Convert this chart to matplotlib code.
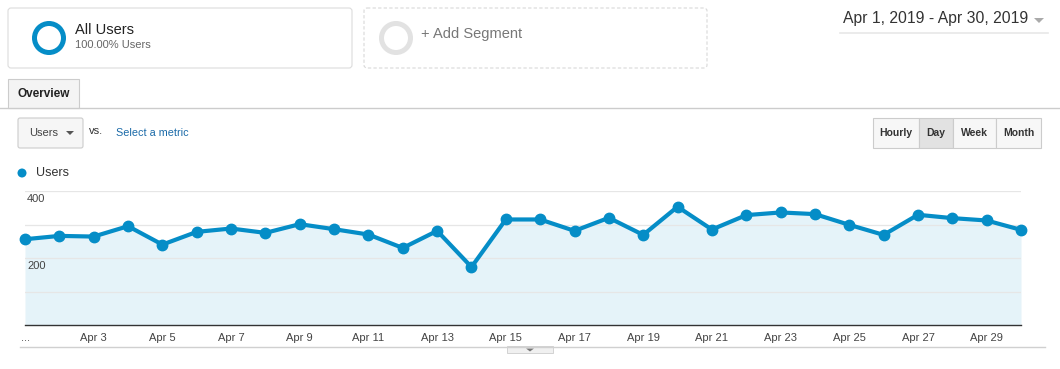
import numpy as np
import matplotlib
matplotlib.use("Agg")
import matplotlib.pyplot as plt
from matplotlib.patches import FancyBboxPatch, Rectangle, Circle, Polygon
import matplotlib.transforms as mtransforms

plt.rcParams["font.family"] = ["Liberation Sans", "DejaVu Sans"]

# daily users, April 2019
days = list(range(1, 31))
users = [256, 266, 264, 295, 240, 278, 288, 275, 301, 286,
         270, 230, 281, 173, 315, 315, 281, 320, 269, 353,
         285, 328, 336, 331, 299, 269, 329, 319, 312, 284]
tick_days = [1, 3, 5, 7, 9, 11, 13, 15, 17, 19, 21, 23, 25, 27, 29]
tick_labels = ["..."] + ["Apr %d" % d for d in tick_days[1:]]
y_grid = [100, 200, 300, 400]
y_labels = [200, 400]

BLUE = "#058dc7"
W, H = 1060, 369

fig = plt.figure(figsize=(W / 100, H / 100), dpi=100)

# overlay in pixel coords for the page furniture
ov = fig.add_axes([0, 0, 1, 1])
ov.set_xlim(0, W)
ov.set_ylim(H, 0)
ov.axis("off")

# segment boxes
ov.add_patch(FancyBboxPatch((8, 8), 344, 60, boxstyle="round,pad=0,rounding_size=3",
                            fc="white", ec="#dcdcdc", lw=0.8))
ov.add_patch(Circle((49, 38), 14.5, fc="none", ec=BLUE, lw=3.6))
ov.text(75, 30, "All Users", fontsize=10.5, color="#222222", va="center")
ov.text(75, 45, "100.00% Users", fontsize=8, color="#666666", va="center")

ov.add_patch(FancyBboxPatch((364, 8), 343, 60, boxstyle="round,pad=0,rounding_size=3",
                            fc="white", ec="#d8d8d8", lw=0.8, ls=(0, (3, 2))))
ov.add_patch(Circle((396, 38), 14.5, fc="none", ec="#e2e2e2", lw=3.6))
ov.text(421, 34, "+ Add Segment", fontsize=10.5, color="#777777", va="center")

# date range
ov.text(843, 19, "Apr 1, 2019 - Apr 30, 2019", fontsize=11.3, color="#333333", va="center")
ov.add_patch(Polygon([[1034, 18], [1044, 18], [1039, 23]], closed=True, fc="#aaaaaa", ec="none"))
ov.plot([840, 1048], [32.5, 32.5], color="#e8e8e8", lw=1.2)

# overview tab
ov.plot([0, W], [107.5, 107.5], color="#cccccc", lw=1)
ov.add_patch(Rectangle((8, 79), 71, 28.5, fc="#f4f4f4", ec="#cccccc", lw=0.8))
ov.add_patch(Rectangle((8.6, 106), 69.8, 2.5, fc="#f4f4f4", ec="none"))
ov.text(17, 94, "Overview", fontsize=8.5, fontweight="bold", color="#222222", va="center")

# metric picker
ov.add_patch(FancyBboxPatch((18, 118), 65, 30, boxstyle="round,pad=0,rounding_size=2",
                            fc="#f6f6f6", ec="#cccccc", lw=0.8))
ov.text(29, 133, "Users", fontsize=8, color="#444444", va="center")
ov.add_patch(Polygon([[66, 131], [74, 131], [70, 135]], closed=True, fc="#555555", ec="none"))
ov.text(89, 131, "vs.", fontsize=8, color="#333333", va="center")
ov.text(116, 133, "Select a metric", fontsize=7.8, color="#1a6aa8", va="center")

# time buttons
buttons = [("Hourly", 873, 919), ("Day", 919, 953), ("Week", 953, 996), ("Month", 996, 1041)]
for name, x0, x1 in buttons:
    fc = "#e2e2e2" if name == "Day" else "#f7f7f7"
    ov.add_patch(Rectangle((x0, 118), x1 - x0, 30, fc=fc, ec="#cccccc", lw=0.8))
    ov.text((x0 + x1) / 2, 133, name, fontsize=7.5, fontweight="bold", color="#333333",
            ha="center", va="center")

# legend
ov.add_patch(Circle((22, 173), 4.5, fc=BLUE, ec="none"))
ov.text(36, 173, "Users", fontsize=9, color="#333333", va="center")

# bottom line and drag tab
ov.plot([20, 1045], [346.5, 346.5], color="#d0d0d0", lw=1)
ov.add_patch(Rectangle((507, 346), 46, 7, fc="#f0f0f0", ec="#cccccc", lw=0.6))
ov.add_patch(Polygon([[526, 348.5], [534, 348.5], [530, 351.5]], closed=True, fc="#777777", ec="none"))

# chart
x0, x1, ytop, ybot = 25, 1021, 191, 325
ax = fig.add_axes([x0 / W, (H - ybot) / H, (x1 - x0) / W, (ybot - ytop) / H])
ax.set_facecolor("none")
ax.fill_between(days, users, 0, color="#e5f3f9", lw=0)
ax.plot(days, users, color=BLUE, lw=3, marker="o", ms=7.5, clip_on=False, zorder=3)
ax.set_xlim(1, 30)
ax.set_ylim(0, 400)
for g in y_grid:
    ax.axhline(g, color="#e6e6e6", lw=0.9, zorder=1)
for s in ["top", "right", "left"]:
    ax.spines[s].set_visible(False)
ax.spines["bottom"].set_color("#333333")
ax.spines["bottom"].set_linewidth(1)
ax.set_yticks([])
ax.set_xticks(tick_days)
ax.set_xticklabels(tick_labels, fontsize=8, color="#444444")
ax.tick_params(axis="x", length=0, pad=6)

trans = mtransforms.blended_transform_factory(ax.transAxes, ax.transData)
off = mtransforms.offset_copy(trans, fig=fig, x=2, y=-3, units="dots")
for v in y_labels:
    ax.text(0, v, str(v), transform=off, fontsize=8, color="#444444", va="top", ha="left", zorder=4)

fig.savefig("out.png", dpi=100)
